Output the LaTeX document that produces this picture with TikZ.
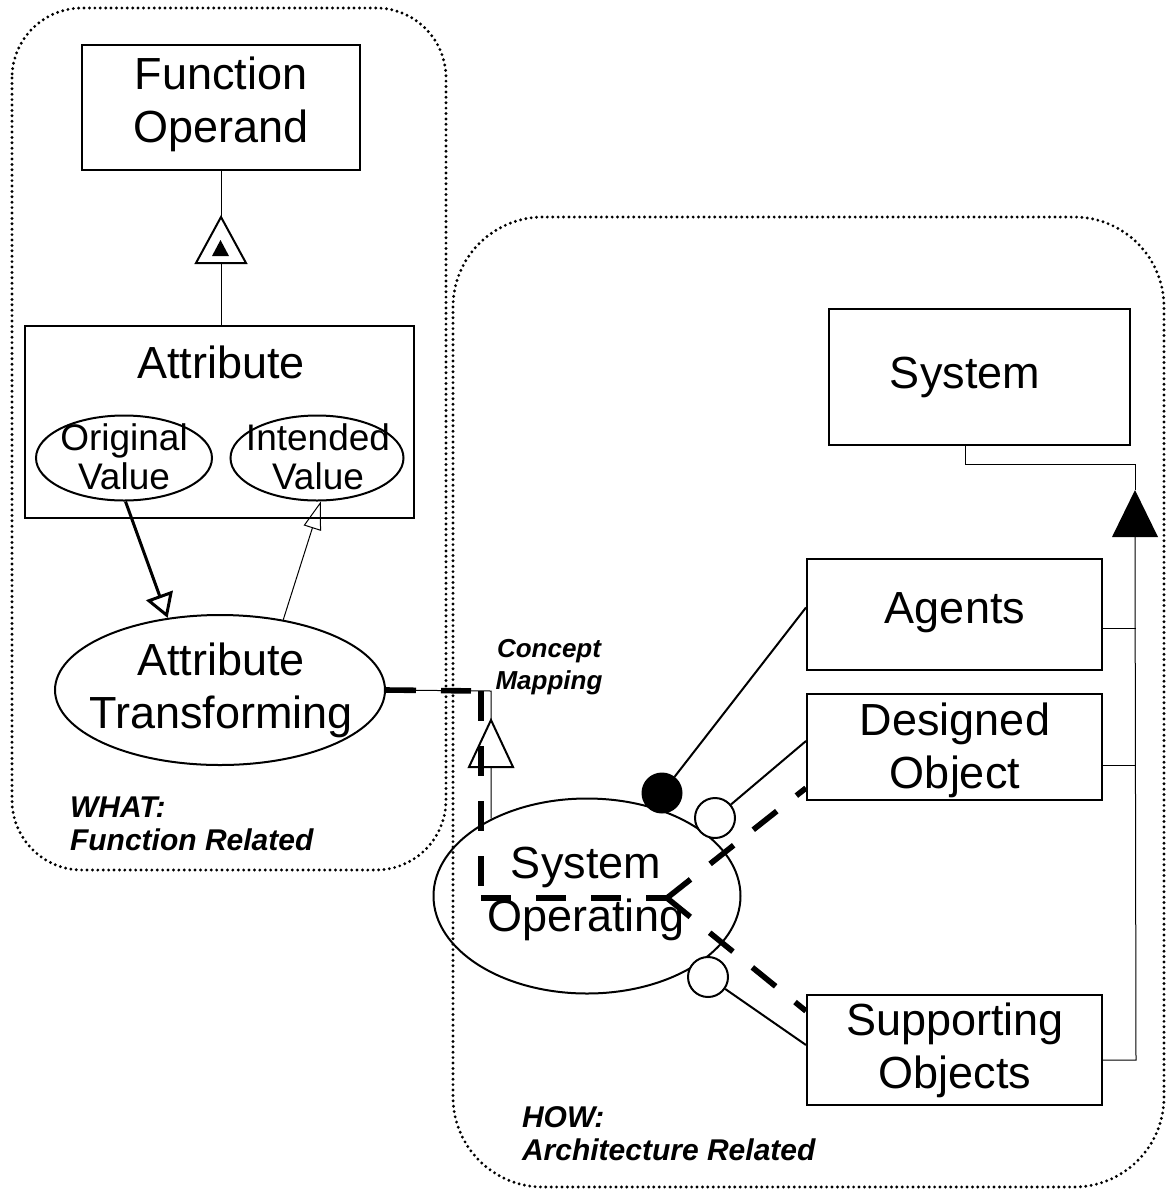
\documentclass[tikz,border=0pt]{standalone}
\usepackage{fontspec}
\setmainfont{Liberation Sans}
\usetikzlibrary{shapes.geometric,arrows.meta,calc}
\begin{document}
\begin{tikzpicture}[x=0.5pt,y=-0.5pt,
  box/.style={draw,line width=1pt,rectangle,inner sep=0pt},
  ell/.style={draw,line width=1pt,ellipse,inner sep=0pt},
  big/.style={font=\fontsize{22.5}{26.5}\selectfont,align=center},
  mid/.style={font=\fontsize{18.5}{19.5}\selectfont,align=center},
  lbl/.style={font=\fontsize{15}{16.5}\selectfont\bfseries\itshape,align=left},
  small/.style={font=\fontsize{13}{16}\selectfont\bfseries\itshape,align=center},
  thin/.style={line width=0.5pt},
  med/.style={line width=1pt},
  dots/.style={line width=1.6pt,line cap=round,dash pattern=on 0pt off 2.7pt},
  dashthick/.style={line width=2.8pt,dash pattern=on 15pt off 12.5pt},
  ring/.style={circle,draw,line width=1pt,fill=white,minimum size=20pt,inner sep=0pt},
  dot/.style={circle,draw,line width=1pt,fill=black,minimum size=19.5pt,inner sep=0pt},
]
\useasboundingbox (0,0) rectangle (1173,1190);

% dotted frames
\draw[dots,rounded corners=35pt] (12,8) rectangle (446,870);
\draw[dots,rounded corners=45pt] (453,217) rectangle (1164,1187);

% left side nodes
\node[box,minimum width=139pt,minimum height=62.5pt] (fo) at (221,107.5) {};
\node[big] (fotxt) at (221,104) {Function\\Operand};
\node[box,minimum width=194.5pt,minimum height=96pt] (attr) at (219.5,422) {};
\node[big] (attrtxt) at (221,362) {Attribute};
\node[ell,minimum width=88pt,minimum height=42.5pt] (ov) at (124,458) {};
\node[mid] (ovtxt) at (124,457) {Original\\Value};
\node[ell,minimum width=86.5pt,minimum height=42.5pt] (iv) at (317,458) {};
\node[mid] (ivtxt) at (318,457) {Intended\\Value};
\node[ell,minimum width=165pt,minimum height=75pt] (at) at (220,690) {};
\node[big] (attxt) at (221,690) {Attribute\\Transforming};

% generalization Function Operand - Attribute
\coordinate (ta) at (221,217);
\coordinate (tb) at (221,263);
\draw[thin] (fo.south -| ta) -- (ta);
\draw[thin] (tb) -- (tb |- attr.north);
\draw[med,fill=white] (ta) -- ++(25,46) -- ++(-50,0) -- cycle;
\fill (220.5,240) -- (229,256) -- (212,256) -- cycle;

% value arrows
\draw[line width=1.5pt,-{Triangle[open,length=12pt,width=14pt]}] (ov.272) -- (at.126);
\draw[thin,-{Triangle[open,length=14pt,width=9pt]}] (at.48) -- (iv.275);

% right side nodes
\node[box,minimum width=150.5pt,minimum height=68pt] (sys) at (979.5,377) {};
\node[big] (systxt) at (965,377) {System};
\node[box,minimum width=147.5pt,minimum height=55.5pt] (agents) at (954.5,614.5) {};
\node[big] (agtxt) at (955,613) {Agents};
\node[box,minimum width=147.5pt,minimum height=53pt] (desobj) at (954.5,747) {};
\node[big] (dotxt) at (955,750) {Designed\\Object};
\node[box,minimum width=147.5pt,minimum height=55pt] (supobj) at (954.5,1050) {};
\node[big] (sotxt) at (955,1050) {Supporting\\Objects};
\node[ell,minimum width=153.5pt,minimum height=97.5pt] (sysop) at (587,896) {};
\node[big] (sysoptxt) at (586,894) {System\\Operating};

% aggregation tree
\coordinate (rt) at (1135,490);
\coordinate (rb) at (1135,537);
\draw[thin] (systxt |- sys.south) -- ++(0,18) -| (rt);
\fill (rt) -- ++(23,47) -- ++(-46,0) -- cycle;
\draw[thin] (rb) -- ($(supobj.east)+(33,10)$) -- ($(supobj.east)+(0,10)$);
\draw[thin] ($(agents.east)+(0,13.5)$) -- ++(33,0);
\draw[thin] ($(desobj.east)+(0,18)$) -- ++(33,0);

% circles and links
\node[dot] (c1) at (662,793) {};
\node[ring] (c2) at (715,818) {};
\node[ring] (c3) at (708,977) {};
\draw[med] (c1) -- ($(agents.west)+(0,-7)$);
\draw[med] (c2) -- ($(desobj.west)+(0,-6)$);
\draw[med] (c3) -- ($(supobj.west)+(0,-5)$);

% concept mapping
\coordinate (cmx) at (491,691);
\coordinate (cmt) at (491,720);
\draw[thin] (at.east) -- (cmx) -- (cmx |- sysop.141);
\draw[med,fill=white] (cmt) -- ++(22,47) -- ++(-44,0) -- cycle;
\coordinate (dk1) at (481,691);
\coordinate (dk2) at (481,898);
\coordinate (jn) at (667,898);
\draw[dashthick] (at.east) -- (dk1);
\draw[dashthick] (dk1) -- (dk2);
\draw[dashthick] (dk2) -- (jn);
\draw[dashthick] (jn) -- ($(desobj.south west)+(0,-13)$);
\draw[dashthick] (jn) -- ($(supobj.north west)+(0,17)$);

% labels
\node[small] (cmlbl) at (549,667) {Concept\\Mapping};
\node[lbl,anchor=west] (what) at (63,824) {WHAT:\\Function Related};
\node[lbl,anchor=west] (how) at (515,1134) {HOW:\\Architecture Related};
\end{tikzpicture}
\end{document}
